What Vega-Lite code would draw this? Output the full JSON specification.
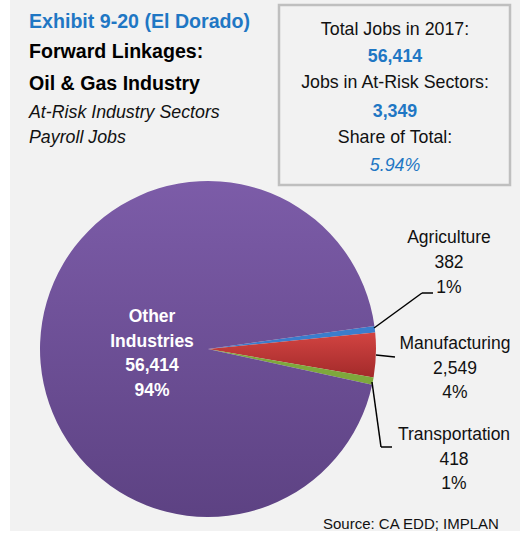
{
  "$schema": "https://vega.github.io/schema/vega-lite/v6.json",
  "width": 510,
  "height": 531,
  "autosize": {"type": "none"},
  "padding": {"left": 10, "top": 0, "right": 6, "bottom": 2},
  "background": "#ffffff",
  "config": {
    "view": {"fill": "#f2f2f2", "stroke": null},
    "text": {"font": "Liberation Sans"}
  },
  "datasets": {
    "summary": [{"total": 56414, "atRisk": 3349, "share": "5.94%"}]
  },
  "data": {
    "values": [
      {"sector": "Agriculture", "value": 382, "share": "1%", "rank": 1},
      {"sector": "Manufacturing", "value": 2549, "share": "4%", "rank": 2},
      {"sector": "Transportation", "value": 418, "share": "1%", "rank": 3},
      {"sector": "Other Industries", "value": 56414, "share": "94%", "rank": 4}
    ]
  },
  "layer": [
    {
      "mark": {"type": "arc", "outerRadius": 168},
      "encoding": {
        "x": {"value": 198},
        "y": {"value": 349},
        "theta": {"field": "value", "type": "quantitative", "stack": true, "scale": {"range": [1.4329, 7.7161]}},
        "order": {"field": "rank", "type": "quantitative"},
        "color": {
          "field": "sector",
          "type": "nominal",
          "scale": {
            "domain": ["Agriculture", "Manufacturing", "Transportation", "Other Industries"],
            "range": ["#3B7DCC", "#C63A38", "#7EA83C", "#6E5199"]
          },
          "legend": null,
          "condition": [
            {"test": "datum.sector === 'Other Industries'", "value": {"gradient": "linear", "x1": 0, "y1": 0, "x2": 0, "y2": 1, "stops": [{"offset": 0, "color": "#7C5CA8"}, {"offset": 1, "color": "#5D4283"}]}},
            {"test": "datum.sector === 'Manufacturing'", "value": {"gradient": "linear", "x1": 0, "y1": 0, "x2": 0, "y2": 1, "stops": [{"offset": 0, "color": "#D24442"}, {"offset": 1, "color": "#A32A2A"}]}}
          ]
        }
      }
    },
    {
      "transform": [
        {"calculate": "datum.sector === 'Other Industries' ? 'Other\\nIndustries\\n' + format(datum.value, ',') + '\\n' + datum.share : ''", "as": "olabel"}
      ],
      "mark": {"type": "text", "radius": 56, "align": "center", "baseline": "middle", "fontSize": 17.5, "fontWeight": "bold", "color": "#ffffff", "lineBreak": "\n", "lineHeight": 24.7, "dy": -30},
      "encoding": {
        "x": {"value": 198},
        "y": {"value": 349},
        "theta": {"field": "value", "type": "quantitative", "stack": true},
        "order": {"field": "rank", "type": "quantitative"},
        "text": {"field": "olabel"}
      }
    },
    {
      "transform": [
        {"filter": "datum.sector === 'Agriculture'"},
        {"calculate": "datum.sector + '\\n' + format(datum.value, ',') + '\\n' + datum.share", "as": "lab"}
      ],
      "mark": {"type": "text", "align": "center", "baseline": "alphabetic", "fontSize": 17.5, "color": "#111111", "lineBreak": "\n", "lineHeight": 25},
      "encoding": {"x": {"value": 439}, "y": {"value": 243}, "text": {"field": "lab"}}
    },
    {
      "transform": [
        {"filter": "datum.sector === 'Manufacturing'"},
        {"calculate": "datum.sector + '\\n' + format(datum.value, ',') + '\\n' + datum.share", "as": "lab"}
      ],
      "mark": {"type": "text", "align": "center", "baseline": "alphabetic", "fontSize": 17.5, "color": "#111111", "lineBreak": "\n", "lineHeight": 24.5},
      "encoding": {"x": {"value": 445}, "y": {"value": 349}, "text": {"field": "lab"}}
    },
    {
      "transform": [
        {"filter": "datum.sector === 'Transportation'"},
        {"calculate": "datum.sector + '\\n' + format(datum.value, ',') + '\\n' + datum.share", "as": "lab"}
      ],
      "mark": {"type": "text", "align": "center", "baseline": "alphabetic", "fontSize": 17.5, "color": "#111111", "lineBreak": "\n", "lineHeight": 24.5},
      "encoding": {"x": {"value": 444}, "y": {"value": 440}, "text": {"field": "lab"}}
    },
    {
      "transform": [{"filter": "datum.sector === 'Agriculture'"}],
      "mark": {"type": "rule", "color": "#000000", "strokeWidth": 1.5},
      "encoding": {"x": {"value": 364}, "y": {"value": 328}, "x2": {"value": 412}, "y2": {"value": 293}}
    },
    {
      "transform": [{"filter": "datum.sector === 'Agriculture'"}],
      "mark": {"type": "rule", "color": "#000000", "strokeWidth": 1.5},
      "encoding": {"x": {"value": 412}, "y": {"value": 293}, "x2": {"value": 423}, "y2": {"value": 293}}
    },
    {
      "transform": [{"filter": "datum.sector === 'Manufacturing'"}],
      "mark": {"type": "rule", "color": "#000000", "strokeWidth": 1.5},
      "encoding": {"x": {"value": 366}, "y": {"value": 355}, "x2": {"value": 385}, "y2": {"value": 357}}
    },
    {
      "transform": [{"filter": "datum.sector === 'Transportation'"}],
      "mark": {"type": "rule", "color": "#000000", "strokeWidth": 1.5},
      "encoding": {"x": {"value": 362}, "y": {"value": 382}, "x2": {"value": 371}, "y2": {"value": 447}}
    },
    {
      "transform": [{"filter": "datum.sector === 'Transportation'"}],
      "mark": {"type": "rule", "color": "#000000", "strokeWidth": 1.5},
      "encoding": {"x": {"value": 371}, "y": {"value": 447}, "x2": {"value": 382}, "y2": {"value": 447}}
    },
    {
      "data": {"values": [{"t": "Exhibit 9-20 (El Dorado)"}]},
      "mark": {"type": "text", "align": "left", "baseline": "alphabetic", "fontSize": 19.6, "fontWeight": "bold", "color": "#1F77C4"},
      "encoding": {"x": {"value": 19}, "y": {"value": 28}, "text": {"field": "t"}}
    },
    {
      "data": {"values": [{"t": "Forward Linkages:\nOil & Gas Industry"}]},
      "mark": {"type": "text", "align": "left", "baseline": "alphabetic", "fontSize": 19.6, "fontWeight": "bold", "color": "#000000", "lineBreak": "\n", "lineHeight": 32},
      "encoding": {"x": {"value": 19}, "y": {"value": 58}, "text": {"field": "t"}}
    },
    {
      "data": {"values": [{"t": "At-Risk Industry Sectors\nPayroll Jobs"}]},
      "mark": {"type": "text", "align": "left", "baseline": "alphabetic", "fontSize": 17.8, "fontStyle": "italic", "color": "#111111", "lineBreak": "\n", "lineHeight": 25},
      "encoding": {"x": {"value": 19}, "y": {"value": 118}, "text": {"field": "t"}}
    },
    {
      "data": {"values": [{}]},
      "mark": {"type": "rect", "fill": null, "stroke": "#bfbfbf", "strokeWidth": 2.5},
      "encoding": {"x": {"value": 269}, "x2": {"value": 500}, "y": {"value": 5}, "y2": {"value": 185}}
    },
    {
      "data": {"name": "summary"},
      "mark": {"type": "text", "align": "center", "baseline": "alphabetic", "fontSize": 17.8, "color": "#111111", "lineBreak": "\n", "lineHeight": 53},
      "encoding": {"x": {"value": 385}, "y": {"value": 35}, "text": {"value": "Total Jobs in 2017:\nJobs in At-Risk Sectors:"}}
    },
    {
      "data": {"name": "summary"},
      "mark": {"type": "text", "align": "center", "baseline": "alphabetic", "fontSize": 17.8, "color": "#111111"},
      "encoding": {"x": {"value": 385}, "y": {"value": 143}, "text": {"value": "Share of Total:"}}
    },
    {
      "data": {"name": "summary"},
      "mark": {"type": "text", "align": "center", "baseline": "alphabetic", "fontSize": 17.8, "fontWeight": "bold", "color": "#1F77C4"},
      "encoding": {"x": {"value": 385}, "y": {"value": 62}, "text": {"field": "total", "type": "quantitative", "format": ","}}
    },
    {
      "data": {"name": "summary"},
      "mark": {"type": "text", "align": "center", "baseline": "alphabetic", "fontSize": 17.8, "fontWeight": "bold", "color": "#1F77C4"},
      "encoding": {"x": {"value": 385}, "y": {"value": 117}, "text": {"field": "atRisk", "type": "quantitative", "format": ","}}
    },
    {
      "data": {"name": "summary"},
      "mark": {"type": "text", "align": "center", "baseline": "alphabetic", "fontSize": 17.8, "fontStyle": "italic", "color": "#1F77C4"},
      "encoding": {"x": {"value": 385}, "y": {"value": 171}, "text": {"field": "share"}}
    },
    {
      "data": {"values": [{"t": "Source: CA EDD; IMPLAN"}]},
      "mark": {"type": "text", "align": "left", "baseline": "alphabetic", "fontSize": 15, "color": "#111111"},
      "encoding": {"x": {"value": 313}, "y": {"value": 529}, "text": {"field": "t"}}
    }
  ]
}
